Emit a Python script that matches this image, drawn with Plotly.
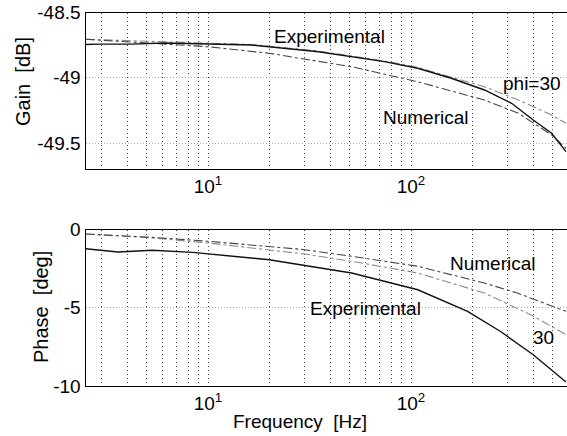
import plotly.graph_objects as go

# ---------------- data ----------------
# Gain plot (dB)
gain_exp_f = [2.5, 2.9, 4.2, 6.1, 16.4, 35, 74, 108, 158, 230, 313, 400, 493, 580]
gain_exp = [-48.745, -48.742, -48.742, -48.733, -48.749, -48.80, -48.876, -48.927, -49.003,
            -49.093, -49.195, -49.323, -49.424, -49.565]

gain_num_f = [2.5, 6.1, 10, 20, 51, 108, 230, 338, 493, 580]
gain_num = [-48.705, -48.741, -48.762, -48.812, -48.915, -49.03, -49.17, -49.271, -49.437, -49.539]

gain_phi_f = [2.5, 6.1, 16.4, 35, 74, 108, 158, 230, 338, 493, 580]
gain_phi = [-48.705, -48.723, -48.745, -48.795, -48.871, -48.92, -48.996, -49.068, -49.17,
            -49.284, -49.348]

# Phase plot (deg)
ph_exp_f = [2.5, 3.6, 5.3, 8.4, 20, 51, 108, 190, 275, 400, 580]
ph_exp = [-1.23, -1.44, -1.33, -1.46, -1.93, -2.78, -3.85, -5.23, -6.5, -8.0, -9.74]

ph_num_f = [2.5, 5.3, 10, 30, 51, 108, 230, 334, 580]
ph_num = [-0.29, -0.50, -0.75, -1.29, -1.71, -2.35, -3.42, -4.06, -5.23]

ph_phi_f = [2.5, 5.3, 10, 30, 51, 108, 230, 400, 580]
ph_phi = [-0.29, -0.54, -0.86, -1.57, -2.03, -2.78, -4.06, -5.53, -6.72]

grid_vals = [3, 4, 5, 6, 7, 8, 9, 10, 20, 30, 40, 50, 60, 70, 80, 90, 100, 200, 300, 400, 500]
grid_text = ["10<sup>1</sup>" if v == 10 else ("10<sup>2</sup>" if v == 100 else "") for v in grid_vals]

gain_ticks = [-49.5, -49, -48.5]
gain_labels = ["-49.5", "-49", "-48.5"]
phase_ticks = [-10, -5, 0]
phase_labels = ["-10", "-5", "0"]

# ---------------- figure ----------------
FONT = "Liberation Sans, Arial, Helvetica, sans-serif"
fig = go.Figure()

def add(x, y, axes, dash, color, width):
    fig.add_trace(go.Scatter(x=x, y=y, mode="lines", xaxis=axes[0], yaxis=axes[1],
                             line=dict(color=color, width=width, dash=dash),
                             showlegend=False, hoverinfo="skip"))

add(gain_phi_f, gain_phi, ("x", "y"), "dashdot", "#8a8a8a", 1.1)
add(gain_num_f, gain_num, ("x", "y"), "dashdot", "#444444", 1.1)
add(gain_exp_f, gain_exp, ("x", "y"), "solid", "#111111", 1.4)

add(ph_phi_f, ph_phi, ("x2", "y2"), "dashdot", "#8a8a8a", 1.1)
add(ph_num_f, ph_num, ("x2", "y2"), "dashdot", "#444444", 1.1)
add(ph_exp_f, ph_exp, ("x2", "y2"), "solid", "#111111", 1.4)

# page body margin is removed by post_script, so layout in page pixels
W, H = 567, 436
xl, xr = 85.5, 567
xrange_log = [1 + (xl - 208) / 203, 1 + (xr - 208) / 203]

def px_x(px):
    return px / W

def px_y(py):
    return (H - py) / H

xcommon = dict(type="log", range=xrange_log, domain=[px_x(xl), 1], automargin=False,
               tickmode="array", tickvals=grid_vals, ticktext=grid_text,
               showgrid=True, gridcolor="#444444", griddash="1px,3px", gridwidth=1,
               showline=True, linecolor="black", linewidth=1.2, mirror=True,
               ticks="", zeroline=False,
               tickfont=dict(family=FONT, size=19, color="black"))

ycommon = dict(showgrid=True, gridcolor="#aaaaaa", griddash="1px,2px", gridwidth=1,
               showline=True, linecolor="black", linewidth=1.2, mirror=False,
               automargin=False, ticks="", zeroline=False, tickmode="array",
               ticklabeloverflow="allow",
               tickfont=dict(family=FONT, size=19, color="black"))

fig.update_layout(
    width=W, height=H,
    margin=dict(l=0, r=0, t=0, b=0),
    paper_bgcolor="white", plot_bgcolor="white",
    hovermode=False,
    xaxis=dict(xcommon, anchor="y"),
    yaxis=dict(ycommon, anchor="x", domain=[px_y(169.3), px_y(12.5)],
               range=[-49.7, -48.5], tickvals=gain_ticks, ticktext=gain_labels),
    xaxis2=dict(xcommon, anchor="y2"),
    yaxis2=dict(ycommon, anchor="x2", domain=[px_y(386), px_y(229.5)],
                range=[-10, 0], tickvals=phase_ticks, ticktext=phase_labels),
)

# axis titles
TF = dict(family=FONT, size=20, color="black")
fig.add_annotation(text="Gain&nbsp; [dB]", x=px_x(23), y=px_y(82), xref="paper", yref="paper",
                   textangle=-90, showarrow=False, font=TF, xanchor="center", yanchor="middle")
fig.add_annotation(text="Phase&nbsp; [deg]", x=px_x(41), y=px_y(307), xref="paper", yref="paper",
                   textangle=-90, showarrow=False, font=TF, xanchor="center", yanchor="middle")
fig.add_annotation(text="Frequency&nbsp; [Hz]", x=px_x(300), y=px_y(421), xref="paper", yref="paper",
                   showarrow=False, font=dict(family=FONT, size=19, color="black"),
                   xanchor="center", yanchor="middle")

def lx(px):
    return 1 + (px - 208) / 203

ann_font = dict(family=FONT, size=19, color="black")
anns = [
    ("Experimental", lx(329), -48.687, "x", "y"),
    ("phi=30", lx(532), -49.04, "x", "y"),
    ("Numerical", lx(426), -49.30, "x", "y"),
    ("Numerical", lx(493), -2.20, "x2", "y2"),
    ("Experimental", lx(365), -5.02, "x2", "y2"),
    ("30", lx(543), -6.93, "x2", "y2"),
]
for text, ax_, ay_, xr_, yr_ in anns:
    fig.add_annotation(text=text, x=ax_, y=ay_, xref=xr_, yref=yr_, showarrow=False,
                       font=ann_font, bgcolor="rgba(0,0,0,0)")

fig.write_html("out.html", config={"displayModeBar": False},
               post_script="document.body.style.margin='0px';")
